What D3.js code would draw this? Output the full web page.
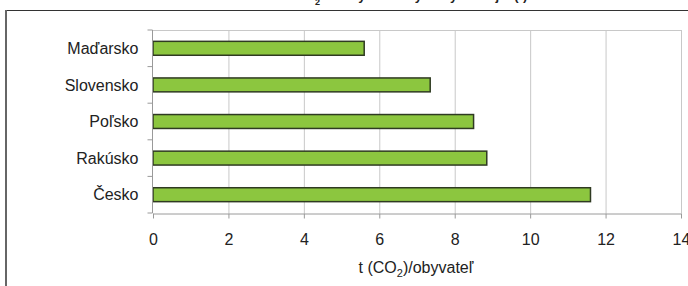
<!DOCTYPE html>
<html lang='sk'>
<head>
	<meta charset='UTF-8'/>
	<title>CO2 na obyvateľa</title>
	<script src='https://cdnjs.cloudflare.com/ajax/libs/d3/7.8.5/d3.min.js'></script>
	<style>
		body {margin: 0; background: #fff;}
		svg {display: block; font-family: 'Liberation Sans', Arial, sans-serif;}
		.grid line {stroke: #c8c8c8;}
		.axis path, .axis line {stroke: #9a9a9a;}
		.axis text {fill: #222; font-size: 16px;}
	</style>
</head>
<body>
	<div class='graph'></div>
	<script>
		// data
		const countries = ['Maďarsko', 'Slovensko', 'Poľsko', 'Rakúsko', 'Česko'];
		const values = [5.6, 7.35, 8.5, 8.85, 11.6];
		const xTicks = [0, 2, 4, 6, 8, 10, 12, 14];

		const width = 688, height = 286;
		const margin = {top: 30, right: 7, bottom: 73, left: 153};

		const svg = d3.select('.graph').append('svg')
			.attr('width', width)
			.attr('height', height);

		// title, cut off by the top edge in the original
		svg.append('text')
			.attr('x', 250)
			.attr('y', -0.5)
			.style('font-size', '13px')
			.style('font-weight', 'bold')
			.attr('fill', '#222')
			.html('Emisie CO<tspan dy="5" font-size="9">2</tspan><tspan dy="-5"> na obyvateľa vybraných krajín (t)</tspan>');

		// outer frame
		svg.append('line')
			.attr('x1', 5).attr('x2', width).attr('y1', 10.5).attr('y2', 10.5)
			.attr('stroke', '#333').attr('stroke-width', 1.2);
		svg.append('line')
			.attr('x1', 6).attr('x2', 6).attr('y1', 10).attr('y2', height)
			.attr('stroke', '#666').attr('stroke-width', 2);

		const x = d3.scaleLinear()
			.domain([0, 14])
			.range([margin.left, width - margin.right]);
		const y = d3.scaleBand()
			.domain(countries)
			.range([margin.top, height - margin.bottom])
			.paddingInner(0.62)
			.paddingOuter(0.31);

		// gridlines
		svg.append('g')
			.attr('class', 'grid')
			.selectAll('line')
			.data(xTicks.slice(1))
			.join('line')
			.attr('x1', d => x(d) + 0.5).attr('x2', d => x(d) + 0.5)
			.attr('y1', margin.top).attr('y2', height - margin.bottom);
		svg.append('line')
			.attr('x1', margin.left).attr('x2', width - margin.right)
			.attr('y1', margin.top + 0.5).attr('y2', margin.top + 0.5)
			.attr('stroke', '#c8c8c8');

		// bars
		svg.append('g')
			.selectAll('rect')
			.data(values)
			.join('rect')
			.attr('x', x(0))
			.attr('y', (d, i) => y(countries[i]))
			.attr('width', d => x(d) - x(0))
			.attr('height', y.bandwidth())
			.attr('fill', '#8cc63f')
			.attr('stroke', '#2f3a22')
			.attr('stroke-width', 1.5);

		// x axis
		svg.append('g')
			.attr('class', 'axis')
			.attr('transform', 'translate(0,' + (height - margin.bottom + 0.5) + ')')
			.call(d3.axisBottom(x).tickValues(xTicks).tickSize(5).tickSizeOuter(0).tickPadding(15));

		// y axis: ticks between categories
		const gy = svg.append('g')
			.attr('class', 'axis')
			.attr('transform', 'translate(' + (margin.left - 0.5) + ',0)');
		gy.append('line')
			.attr('y1', margin.top).attr('y2', height - margin.bottom)
			.attr('stroke', '#9a9a9a');
		const step = y.step();
		gy.selectAll('.tk')
			.data(d3.range(countries.length + 1))
			.join('line')
			.attr('class', 'tk')
			.attr('x1', -5).attr('x2', 0)
			.attr('y1', i => margin.top + i * step)
			.attr('y2', i => margin.top + i * step)
			.attr('stroke', '#9a9a9a');
		gy.selectAll('text')
			.data(countries)
			.join('text')
			.attr('x', -14)
			.attr('y', d => y(d) + y.bandwidth() / 2)
			.attr('dy', '0.35em')
			.attr('text-anchor', 'end')
			.text(d => d);

		// axis title
		svg.append('text')
			.attr('x', 416)
			.attr('y', 273)
			.attr('text-anchor', 'middle')
			.style('font-size', '16px')
			.attr('fill', '#222')
			.html('t (CO<tspan dy="4" font-size="11">2</tspan><tspan dy="-4">)/obyvateľ</tspan>');
	</script>
</body>
</html>
